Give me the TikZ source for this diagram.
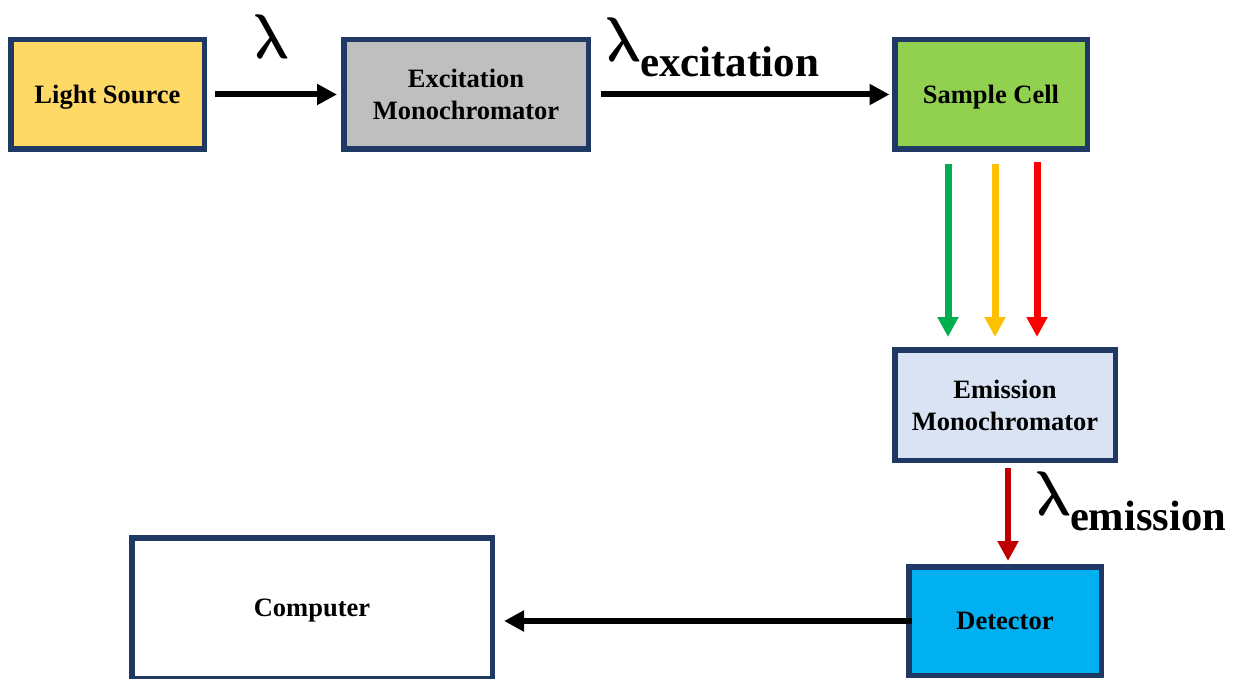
\documentclass[tikz,border=0pt]{standalone}
\usepackage{graphicx}
\usepackage{fontspec}
\usepackage{unicode-math}
\setmainfont{Liberation Serif}
\setmathfont{Latin Modern Math}
\usetikzlibrary{arrows.meta}
\definecolor{navy}{HTML}{1F3864}
\definecolor{cyellow}{HTML}{FFD966}
\definecolor{cgray}{HTML}{BFBFBF}
\definecolor{cgreen}{HTML}{92D050}
\definecolor{clblue}{HTML}{DAE3F3}
\definecolor{ccyan}{HTML}{00B0F0}
\definecolor{agreen}{HTML}{00B050}
\definecolor{ayellow}{HTML}{FFC000}
\definecolor{ared}{HTML}{FF0000}
\definecolor{adred}{HTML}{C00000}
\newcommand{\biglam}{\scalebox{0.8}[1]{\fontsize{63}{65}\selectfont$\symbfup{\lambda}$}}
\begin{document}
\begin{tikzpicture}[x=1pt,y=-1pt,
  box/.style={draw=navy, line width=5.5pt, inner sep=0pt, align=center,
    font=\fontsize{26.5}{32}\selectfont\bfseries},
  onebox/.style={box, text depth=0pt},
  conn/.style={line width=6pt, -{Triangle[length=20pt,width=20pt]}},
  lam/.style={inner sep=0pt, anchor=base west},
]
\useasboundingbox (0,0) rectangle (1233,679);
\fill[white] (0,0) rectangle (1233,679);
\node[onebox, fill=cyellow, minimum width=193.5pt, minimum height=109.5pt] (light) at (107.5,94.5) {Light Source};
\node[box, fill=cgray, minimum width=244.5pt, minimum height=109.5pt] (exc) at (466,94.5) {Excitation\\Monochromator};
\node[onebox, fill=cgreen, minimum width=192.5pt, minimum height=109.5pt] (sample) at (991,94.5) {Sample Cell};
\node[box, fill=clblue, minimum width=220.5pt, minimum height=110.5pt] (emi) at (1005,405) {Emission\\Monochromator};
\node[onebox, fill=ccyan, minimum width=192.5pt, minimum height=108.5pt] (det) at (1005,621) {Detector};
\node[onebox, fill=white, minimum width=360.5pt, minimum height=140.5pt] (comp) at (312,608) {Computer};

\draw[conn, shorten <=8pt, shorten >=4pt] (light.east) -- (exc.west);
\draw[conn, shorten <=10pt, shorten >=2.5pt] (exc.east) -- (sample.west);

\draw[conn, agreen, line width=7pt, shorten <=12pt, shorten >=10pt]
  ([xshift=-43pt]sample.south) -- ([xshift=-43pt]sample.south |- emi.north);
\draw[conn, ayellow, line width=7pt, shorten <=12pt, shorten >=10pt]
  ([xshift=4pt]sample.south) -- ([xshift=4pt]sample.south |- emi.north);
\draw[conn, ared, line width=7pt, shorten <=10pt, shorten >=10pt]
  ([xshift=46pt]sample.south) -- ([xshift=46pt]sample.south |- emi.north);

\draw[conn, adred, shorten <=5pt, shorten >=3pt]
  ([xshift=3pt]emi.south) -- ([xshift=3pt]emi.south |- det.north);

\draw[conn, shorten <=-6pt, shorten >=9pt] (det.west) -- (det.west -| comp.east);

\node[lam] (l1) at (254,59) {\biglam};
\node[lam] (l2) at (606,62) {\biglam\kern-1pt\raisebox{-15pt}{\fontsize{43}{45}\selectfont\bfseries excitation}};
\node[lam] (l3) at (1036,515) {\biglam\kern-1pt\raisebox{-15pt}{\fontsize{42.5}{45}\selectfont\bfseries emission}};
\end{tikzpicture}
\end{document}
